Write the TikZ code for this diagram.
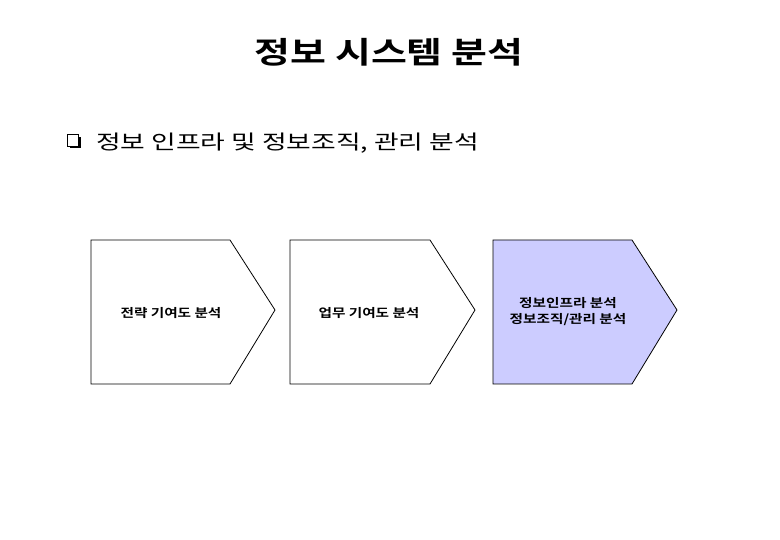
\documentclass[tikz,border=0pt]{standalone}
\usepackage{fontspec}
\newfontfamily\krsub[FakeStretch=1.34]{Noto Sans CJK KR}
\newfontfamily\krtitle[FakeStretch=1.3]{Noto Sans CJK KR Bold}
\newfontfamily\krbox[FakeStretch=1.22]{Noto Sans CJK KR Bold}
\begin{document}
\begin{tikzpicture}[x=1pt,y=-1pt,
  chevron/.style={draw=black,line width=0.8pt,line join=miter},
  boxlabel/.style={font=\krbox\fontsize{12}{16}\selectfont,align=center,inner sep=0pt}]
\useasboundingbox (0,0) rectangle (780,540);
% title
\node[font=\krtitle\fontsize{30}{36}\selectfont,inner sep=0pt] (title) at (389,52) {정보 시스템 분석};
% bullet square
\fill[black] (70,137) rectangle (80.5,148.5);
\draw[fill=white,line width=0.8pt] (67.5,134.5) rectangle (78,146);
\node[font=\krsub\fontsize{20}{24}\selectfont,anchor=west,inner sep=0pt] (sub) at (96,143) {정보 인프라 및 정보조직, 관리 분석};
% chevrons
\draw[chevron,fill=white] (91,240) -- (230,240) -- (275,310) -- (230,384) -- (91,384) -- cycle;
\draw[chevron,fill=white] (290,240) -- (430,240) -- (475,310) -- (430,384) -- (290,384) -- cycle;
\draw[chevron,fill={rgb,255:red,204;green,204;blue,255}] (493,240) -- (632,240) -- (677,310) -- (632,384) -- (493,384) -- cycle;
\node[boxlabel] (l1) at (171,313) {전략 기여도 분석};
\node[boxlabel] (l2) at (369,313) {업무 기여도 분석};
\node[boxlabel] (l3) at (568,312) {정보인프라 분석\\정보조직/관리 분석};
\end{tikzpicture}
\end{document}
